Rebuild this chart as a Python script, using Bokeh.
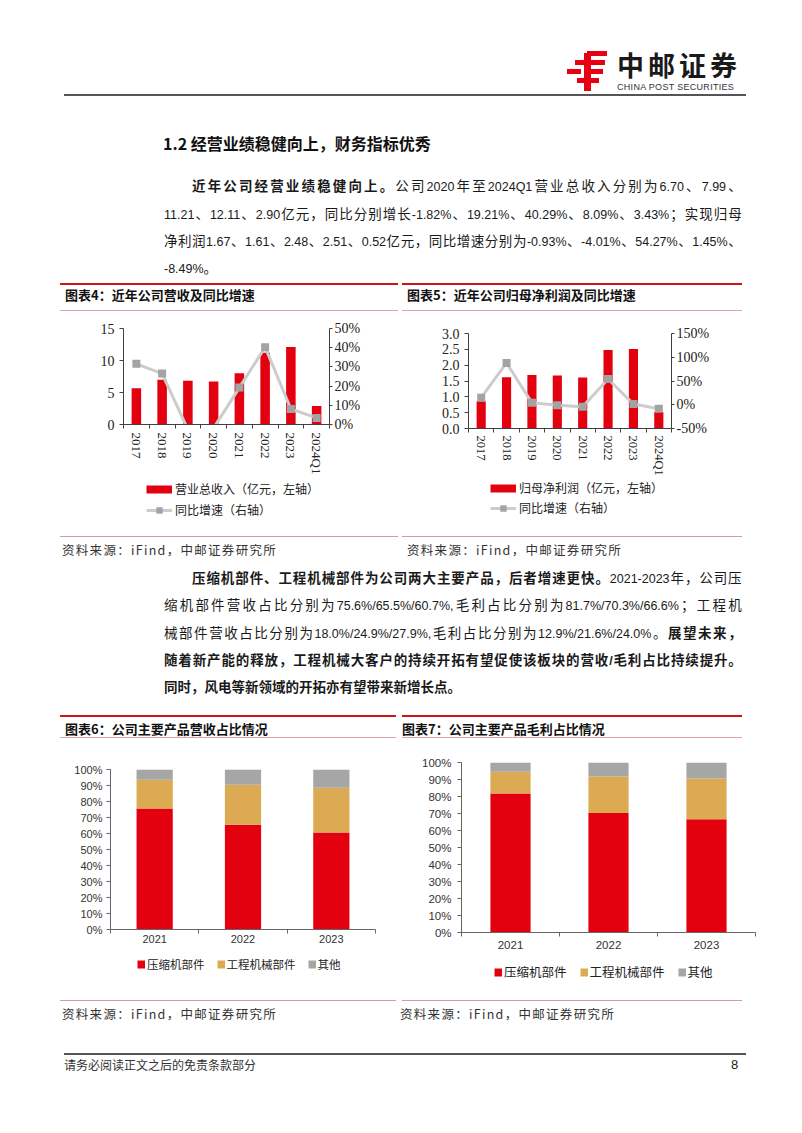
import math
import re
from bokeh.plotting import figure
from bokeh.models import (Div, Range1d, LinearAxis, FixedTicker, PrintfTickFormatter,
                          CustomJSTickFormatter, Legend, LegendItem, ColumnDataSource, Spacer)
from bokeh.layouts import column, row
from bokeh.embed import file_html
from bokeh.resources import INLINE

# ---------------- data ----------------
years = ["2017", "2018", "2019", "2020", "2021", "2022", "2023", "2024Q1"]
revenue = [5.66, 7.00, 6.82, 6.70, 7.99, 11.21, 12.11, 2.90]          # 亿元
revenue_yoy = [31.6, 26.5, -2.6, -1.82, 19.21, 40.29, 8.09, 3.43]      # %
profit = [0.86, 1.62, 1.69, 1.67, 1.61, 2.48, 2.51, 0.52]              # 亿元
profit_yoy = [15.0, 88.0, 4.0, -0.93, -4.01, 54.27, 1.45, -8.49]       # %

seg_years = ["2021", "2022", "2023"]
seg_names = ["压缩机部件", "工程机械部件", "其他"]
rev_compressor = [75.6, 65.5, 60.7]
rev_machinery = [18.0, 24.9, 27.9]
rev_other = [6.4, 9.6, 11.4]
gp_compressor = [81.7, 70.3, 66.6]
gp_machinery = [12.9, 21.6, 24.0]
gp_other = [5.4, 8.1, 9.4]

rev_ticks = [0, 5, 10, 15]
rev_yoy_ticks = [0, 10, 20, 30, 40, 50]
profit_ticks = [0.0, 0.5, 1.0, 1.5, 2.0, 2.5, 3.0]
profit_yoy_ticks = [-50, 0, 50, 100, 150]
share_ticks = [0, 10, 20, 30, 40, 50, 60, 70, 80, 90, 100]

# ---------------- styles ----------------
RED = "#E3000F"
TAN = "#DCAA52"
GRAY = "#A6A6A6"
LINE_GRAY = "#CCCCCC"
MARK_GRAY = "#A3A3A3"
CJK = "'Noto Sans CJK SC', sans-serif"
LATIN_RE = r"[0-9A-Za-z.%/,\-]"


def box(x, y, w, h, color):
    return (f'<div style="position:absolute;left:{x}px;top:{y}px;width:{w}px;height:{h}px;'
            f'background:{color}"></div>')


def txt(x, yc, s, size, weight="normal", color="#111", font=CJK, extra="", lhf=1.2):
    lh = round(size * lhf)
    return (f'<div style="position:absolute;left:{x}px;top:{yc - lh / 2}px;line-height:{lh}px;'
            f'font-size:{size}px;font-weight:{weight};color:{color};white-space:nowrap;'
            f'font-family:{font};{extra}">{s}</div>')


def jline(x, yc, w, segments, last=False):
    spans = []
    for s, bold in segments:
        for t in re.findall(LATIN_RE + r"+|[^\s0-9A-Za-z.%/,\-]", s):
            style = ""
            if re.match(LATIN_RE, t):
                style = "font-family:'Liberation Sans',sans-serif;font-size:12.5px;"
            if bold:
                style += "font-weight:bold;"
            spans.append(f'<span style="{style}">{t}</span>')
    jc = "flex-start" if last else "space-between"
    return (f'<div style="position:absolute;left:{x}px;top:{yc - 13.5}px;width:{w}px;height:27px;'
            f'line-height:27px;display:flex;justify-content:{jc};align-items:baseline;'
            f'white-space:nowrap;font-size:13.5px;color:#1a1a1a;font-family:{CJK}">'
            + "".join(spans) + "</div>")


def mkdiv(inner, w, h):
    html = f'<div style="position:relative;width:{w}px;height:{h}px;">{inner}</div>'
    return Div(text=html, width=w, height=h, margin=0)


def style_axis(ax, font, size, color="#404040", text_color="#222"):
    ax.axis_line_color = color
    ax.major_tick_line_color = color
    ax.minor_tick_line_color = color
    ax.major_label_text_font = font
    ax.major_label_text_font_size = size
    ax.major_label_text_color = text_color
    ax.major_tick_in = 0
    ax.minor_tick_in = 0
    ax.minor_tick_out = 0


def combo(values, yoy, left_ticks, left_fmt, pct_ticks, width, height,
          bl, br, bt, bb, bar_w, xstand, xfs):
    n = len(years)
    xs = [i + 0.5 for i in range(n)]
    src = ColumnDataSource(dict(x=xs, v=values, g=yoy))
    p = figure(width=width, height=height, x_range=Range1d(0, n),
               y_range=Range1d(left_ticks[0], left_ticks[-1]),
               output_backend="svg", toolbar_location=None,
               min_border_left=bl, min_border_right=br, min_border_top=bt, min_border_bottom=bb,
               margin=0)
    p.extra_y_ranges = {"pct": Range1d(pct_ticks[0], pct_ticks[-1])}
    p.vbar(x="x", top="v", width=bar_w, source=src, fill_color=RED, line_color=None)
    p.line(x="x", y="g", source=src, y_range_name="pct", line_color=LINE_GRAY, line_width=3)
    p.scatter(x="x", y="g", source=src, y_range_name="pct", marker="square", size=8,
              fill_color=MARK_GRAY, line_color=None)
    right = LinearAxis(y_range_name="pct", ticker=FixedTicker(ticks=pct_ticks),
                       formatter=PrintfTickFormatter(format="%d%%"))
    p.add_layout(right, "right")
    p.xgrid.visible = False
    p.ygrid.visible = False
    p.outline_line_color = None

    xa = p.xaxis[0]
    style_axis(xa, "Liberation Serif", xfs)
    xa.ticker = FixedTicker(ticks=xs, minor_ticks=list(range(n + 1)))
    xa.formatter = CustomJSTickFormatter(args=dict(labels=years),
                                         code="return labels[Math.floor(tick)]")
    xa.major_label_orientation = -math.pi / 2
    xa.major_tick_out = 0
    xa.minor_tick_out = 4
    xa.major_label_standoff = xstand

    la = p.left[0]
    style_axis(la, "Liberation Serif", "14px")
    la.ticker = FixedTicker(ticks=left_ticks)
    la.formatter = PrintfTickFormatter(format=left_fmt)
    la.major_tick_out = 4
    la.major_label_standoff = 5

    style_axis(right, "Liberation Serif", "14px")
    right.major_tick_out = 3
    right.major_label_standoff = 2
    return p, src


def legend_fig(width, height, src, entries, loc, orientation, glyph_w, spacing, fs, standoff):
    # The legend's swatches are drawn from the chart's own data source; this strip's
    # y range lies far away from every value, so only the legend itself is visible here.
    p = figure(width=width, height=height, x_range=Range1d(0, 10), y_range=Range1d(1000, 1001),
               x_axis_type=None, y_axis_type=None, output_backend="svg",
               toolbar_location=None, min_border=0, margin=0)
    p.outline_line_color = None
    items = []
    for label, kinds in entries:
        rs = []
        for kind, field, color, w in kinds:
            if kind == "line":
                rs.append(p.line(x="x", y=field, source=src, line_color=color, line_width=w))
            else:
                rs.append(p.scatter(x="x", y=field, source=src, marker="square", size=w,
                                    fill_color=color, line_color=None))
        items.append(LegendItem(label=label, renderers=rs))
    leg = Legend(items=items, location=loc, orientation=orientation,
                 glyph_width=glyph_w, glyph_height=16, label_height=16, label_standoff=standoff,
                 spacing=spacing, padding=0, margin=0,
                 border_line_color=None, background_fill_alpha=0,
                 label_text_font="Noto Sans CJK SC", label_text_font_size=fs,
                 label_text_color="#222")
    p.add_layout(leg)
    return p


def stacked(a, b, c, width, height, bl, br, bt, bb, bar_w, fs, xstand, ystand):
    n = len(seg_years)
    xs = [i + 0.5 for i in range(n)]
    src = ColumnDataSource(dict(x=xs, a=a, b=b, c=c))
    p = figure(width=width, height=height, x_range=Range1d(0, n), y_range=Range1d(0, 100),
               output_backend="svg", toolbar_location=None,
               min_border_left=bl, min_border_right=br, min_border_top=bt, min_border_bottom=bb,
               margin=0)
    p.vbar_stack(["a", "b", "c"], x="x", width=bar_w, fill_color=[RED, TAN, GRAY],
                 line_color=None, source=src)
    p.xgrid.visible = False
    p.ygrid.visible = False
    p.outline_line_color = None

    xa = p.xaxis[0]
    style_axis(xa, "Liberation Sans", fs, color="#666666", text_color="#333")
    xa.ticker = FixedTicker(ticks=xs, minor_ticks=list(range(n + 1)))
    xa.formatter = CustomJSTickFormatter(args=dict(labels=seg_years),
                                         code="return labels[Math.floor(tick)]")
    xa.major_tick_out = 0
    xa.minor_tick_out = 4
    xa.major_label_standoff = xstand

    ya = p.yaxis[0]
    style_axis(ya, "Liberation Sans", fs, color="#666666", text_color="#333")
    ya.ticker = FixedTicker(ticks=share_ticks)
    ya.formatter = PrintfTickFormatter(format="%d%%")
    ya.major_tick_out = 4
    ya.major_label_standoff = ystand
    return p, src


# ---------------- section A: header + heading + paragraph 1 (page y 0..280) ----------------
logo = ('<svg width="40" height="42" viewBox="0 0 40 42" style="position:absolute;left:567px;top:49px">'
        '<g fill="#E60012">'
        '<rect x="20" y="2" width="20" height="5"/>'
        '<rect x="8" y="11" width="30" height="5"/>'
        '<rect x="0" y="20" width="14" height="5"/>'
        '<rect x="24" y="20" width="12" height="5"/>'
        '<rect x="10" y="29" width="22" height="5"/>'
        '<path d="M17 4 L24 4 L24 42 L17 42 Z"/>'
        '</g><rect x="14" y="21" width="3" height="3" fill="#fff"/></svg>')
a_inner = (
    logo
    + txt(617, 64, "中邮证券", 27, weight="bold", color="#1a1a1a", extra="letter-spacing:4px;", lhf=1.0)
    + txt(617, 87, "CHINA POST SECURITIES", 9, color="#333", font="'Liberation Sans', sans-serif",
          extra="letter-spacing:0.3px;", lhf=1.0)
    + box(64, 94, 682, 2, "#555")
    + txt(163, 143, "1.2 经营业绩稳健向上，财务指标优秀", 16, weight="bold", color="#111")
    + jline(192, 185, 550, [("近年公司经营业绩稳健向上。", True),
                            ("公司 2020 年至 2024Q1 营业总收入分别为 6.70、7.99、", False)])
    + jline(164, 213, 578, [("11.21、12.11、2.90 亿元，同比分别增长-1.82%、19.21%、40.29%、8.09%、3.43%；实现归母", False)])
    + jline(164, 240, 578, [("净利润 1.67、1.61、2.48、2.51、0.52 亿元，同比增速分别为-0.93%、-4.01%、54.27%、1.45%、", False)])
    + jline(164, 267, 578, [("-8.49%。", False)], last=True)
)
secA = mkdiv(a_inner, 802, 280)


# ---------------- section B: charts 4 & 5 (page y 280..562) ----------------
def title_div(title, w, line_x, line_w, h, top_y, title_y, thin_y, title_x):
    inner = (box(line_x, top_y, line_w, 2, "#C8161D")
             + txt(title_x, title_y, title, 13, weight="bold", color="#111")
             + box(line_x, thin_y, line_w, 1, "#E2A3A3"))
    return mkdiv(inner, w, h)


def source_div(w, line_x, line_w, h, line_y, text_y, text_x):
    inner = (box(line_x, line_y, line_w, 1, "#D99A9A")
             + txt(text_x, text_y, "资料来源：iFind，中邮证券研究所", 12.5, color="#333",
                   extra="letter-spacing:1.3px;"))
    return mkdiv(inner, w, h)


def combo_legend(bar_label):
    return [(bar_label, [("line", "v", RED, 8)]),
            ("同比增速（右轴）", [("line", "g", LINE_GRAY, 3), ("square", "g", MARK_GRAY, 7)])]


fig4, src4 = combo(revenue, revenue_yoy, rev_ticks, "%d", rev_yoy_ticks,
                   342, 166, 63, 73, 16, 54, 0.37, 4, "13px")
leg4 = legend_fig(342, 52, src4, combo_legend("营业总收入（亿元，左轴）"), (23, 12),
                  "vertical", 26, 4, "12px", 3)
fig5, src5 = combo(profit, profit_yoy, profit_ticks, "%.1f", profit_yoy_ticks,
                   340, 166, 66, 71, 21, 48, 0.36, 3, "12.5px")
leg5 = legend_fig(340, 52, src5, combo_legend("归母净利润（亿元，左轴）"), (22, 14),
                  "vertical", 26, 3, "12px", 3)

col4 = column(title_div("图表4：近年公司营收及同比增速", 342, 0, 338, 32, 3, 15, 30, 5),
              fig4, leg4,
              source_div(342, 0, 338, 32, 6, 19, 2),
              spacing=0, margin=0)
col5 = column(title_div("图表5：近年公司归母净利润及同比增速", 340, 0, 340, 32, 3, 15, 30, 5),
              fig5, leg5,
              source_div(340, 0, 340, 32, 6, 19, 5),
              spacing=0, margin=0)
secB = row(Spacer(width=60, height=282, margin=0), col4, col5, spacing=0, margin=0)

# ---------------- section C: paragraph 2 (page y 562..712) ----------------
c_inner = (
    jline(192, 15, 550, [("压缩机部件、工程机械部件为公司两大主要产品，后者增速更快。", True),
                         ("2021-2023 年，公司压", False)])
    + jline(164, 42, 578, [("缩机部件营收占比分别为 75.6%/65.5%/60.7%,毛利占比分别为 81.7%/70.3%/66.6%；工程机", False)])
    + jline(164, 70, 578, [("械部件营收占比分别为 18.0%/24.9%/27.9%,毛利占比分别为 12.9%/21.6%/24.0%。", False),
                           ("展望未来，", True)])
    + jline(164, 97, 578, [("随着新产能的释放，工程机械大客户的持续开拓有望促使该板块的营收/毛利占比持续提升。", True)])
    + jline(164, 124, 578, [("同时，风电等新领域的开拓亦有望带来新增长点。", True)], last=True)
)
secC = mkdiv(c_inner, 802, 150)

# ---------------- section D: charts 6 & 7 (page y 712..1025) ----------------
seg_legend = [(name, [("line", f, col, 8)])
              for name, f, col in zip(seg_names, ["a", "b", "c"], [RED, TAN, GRAY])]

fig6, src6 = stacked(rev_compressor, rev_machinery, rev_other, 340, 208, 50, 25, 27, 21, 0.41,
                     "11px", 1, 4)
leg6 = legend_fig(340, 45, src6, seg_legend, (27, 23), "horizontal", 8, 12, "11.5px", 2)
fig7, src7 = stacked(gp_compressor, gp_machinery, gp_other, 370, 213, 61, 15, 20, 23, 0.41,
                     "11.5px", 4, 6)
leg7 = legend_fig(370, 40, src7, seg_legend, (33, 14), "horizontal", 8, 13, "12.5px", 2)

col6 = column(title_div("图表6：公司主要产品营收占比情况", 340, 0, 336, 30, 3, 17, 25, 5),
              fig6, leg6,
              source_div(340, 0, 336, 30, 5, 18, 2),
              spacing=0, margin=0)
col7 = column(title_div("图表7：公司主要产品毛利占比情况", 370, 2, 340, 30, 3, 17, 25, 2),
              fig7, leg7,
              source_div(370, 2, 340, 30, 5, 18, 0),
              spacing=0, margin=0)
secD = row(Spacer(width=60, height=313, margin=0), col6, col7, spacing=0, margin=0)

# ---------------- section E: footer (page y 1025..1133) ----------------
e_inner = (box(64, 28, 682, 2, "#555")
           + txt(64, 40, "请务必阅读正文之后的免责条款部分", 12, color="#333")
           + txt(731, 40, "8", 13, color="#222", font="'Liberation Sans', sans-serif"))
secE = mkdiv(e_inner, 802, 106)

page = column(secA, secB, secC, secD, secE, spacing=0, margin=0)

open("out.html", "w").write(file_html(page, INLINE, title="中邮证券"))
